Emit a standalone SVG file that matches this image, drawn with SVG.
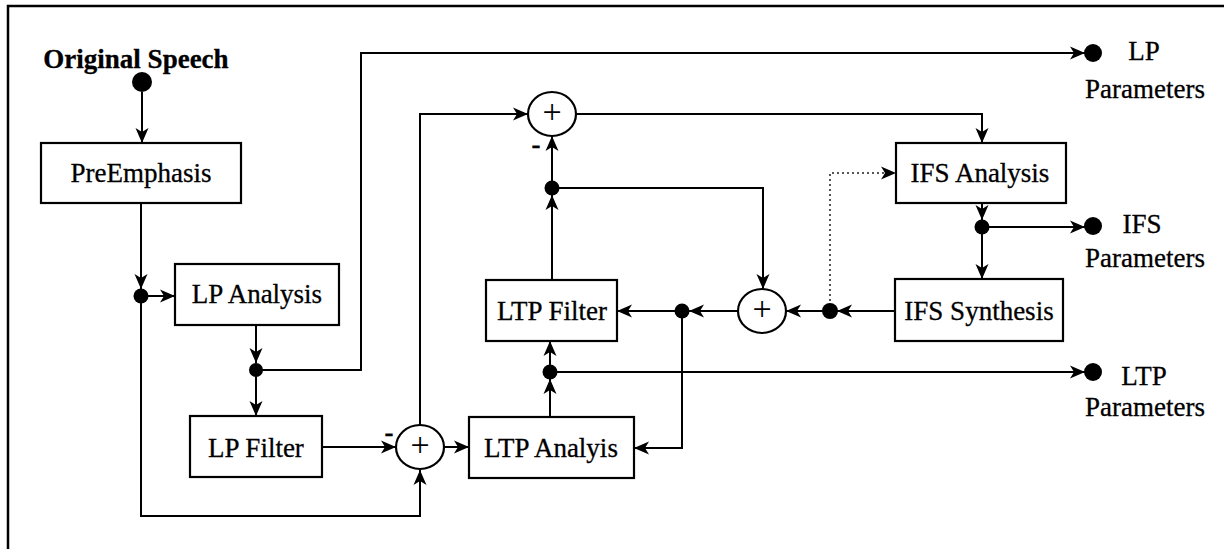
<svg xmlns="http://www.w3.org/2000/svg" width="1224" height="549" viewBox="0 0 1224 549">
<style>
  .box { fill: #fff; stroke: #000; stroke-width: 2.2; }
  .sum { fill: #fff; stroke: #000; stroke-width: 2.2; }
  .ln { fill: none; stroke: #000; stroke-width: 2; }
  .dot { fill: none; stroke: #555; stroke-width: 2; stroke-dasharray: 2 3; }
  .t { font-family: "Liberation Serif", "Times New Roman", serif; font-size: 27px; fill: #000; text-anchor: middle; stroke: #000; stroke-width: 0.3; }
  .b { font-weight: bold; }
  .pl { font-family: "Liberation Serif", serif; font-size: 34px; fill: #000; text-anchor: middle; }
</style>
<defs>
  <marker id="ah" markerUnits="userSpaceOnUse" markerWidth="16" markerHeight="14" refX="15" refY="6.5" orient="auto" overflow="visible">
    <path d="M0,0 L15,6.5 L0,13 L4,6.5 Z" fill="#000"/>
  </marker>
</defs>
<rect width="1224" height="549" fill="#fff"/>
<rect x="8" y="6" width="1240" height="560" fill="none" stroke="#000" stroke-width="2.5"/>

<g id="connectors">
  <path class="ln" d="M142,92 V143" marker-end="url(#ah)"/>
  <path class="ln" d="M141,203 V289" marker-end="url(#ah)"/>
  <path class="ln" d="M148,296 H175" marker-end="url(#ah)"/>
  <path class="ln" d="M141,296 V516 H420 V470" marker-end="url(#ah)"/>
  <path class="ln" d="M256,325 V363" marker-end="url(#ah)"/>
  <path class="ln" d="M256,370 V416" marker-end="url(#ah)"/>
  <path class="ln" d="M256,370 H361 V53 H1085" marker-end="url(#ah)"/>
  <path class="ln" d="M322,447 H396" marker-end="url(#ah)"/>
  <path class="ln" d="M444,447 H469" marker-end="url(#ah)"/>
  <path class="ln" d="M420,425 V114 H528" marker-end="url(#ah)"/>
  <path class="ln" d="M576,114 H982 V143" marker-end="url(#ah)"/>
  <path class="ln" d="M552,280 V195" marker-end="url(#ah)"/>
  <path class="ln" d="M552,188 V136" marker-end="url(#ah)"/>
  <path class="ln" d="M552,188 H763 V289" marker-end="url(#ah)"/>
  <path class="ln" d="M550,417 V379" marker-end="url(#ah)"/>
  <path class="ln" d="M550,372 V341" marker-end="url(#ah)"/>
  <path class="ln" d="M550,372 H1085" marker-end="url(#ah)"/>
  <path class="ln" d="M895,311 H837" marker-end="url(#ah)"/>
  <path class="ln" d="M830,311 H786" marker-end="url(#ah)"/>
  <path class="ln" d="M738,311 H689" marker-end="url(#ah)"/>
  <path class="ln" d="M682,311 H617" marker-end="url(#ah)"/>
  <path class="ln" d="M682,311 V448 H634" marker-end="url(#ah)"/>
  <path class="dot" d="M830,311 V173 H896" marker-end="url(#ah)"/>
  <path class="ln" d="M982,203 V220" marker-end="url(#ah)"/>
  <path class="ln" d="M982,227 H1085" marker-end="url(#ah)"/>
  <path class="ln" d="M982,227 V279" marker-end="url(#ah)"/>
  <!-- junction dots -->
  <circle cx="141" cy="296" r="7.5" fill="#000"/>
  <circle cx="256" cy="370" r="7" fill="#000"/>
  <circle cx="552" cy="188" r="7.5" fill="#000"/>
  <circle cx="550" cy="372" r="7.5" fill="#000"/>
  <circle cx="682" cy="311" r="7.5" fill="#000"/>
  <circle cx="830" cy="311" r="8" fill="#000"/>
  <circle cx="982" cy="227" r="7.5" fill="#000"/>
</g>

<g id="original-speech">
  <text class="t b" x="136" y="68">Original Speech</text>
  <circle cx="142" cy="82" r="10" fill="#000"/>
</g>
<g id="preemphasis">
  <rect class="box" x="41" y="143" width="200" height="60"/>
  <text class="t" x="141" y="182">PreEmphasis</text>
</g>
<g id="lp-analysis">
  <rect class="box" x="175" y="264" width="164" height="61"/>
  <text class="t" x="257" y="303">LP Analysis</text>
</g>
<g id="lp-filter">
  <rect class="box" x="190" y="416" width="132" height="61"/>
  <text class="t" x="256" y="457">LP Filter</text>
</g>
<g id="sum-lower">
  <ellipse class="sum" cx="420" cy="447" rx="24" ry="22"/>
  <text class="pl" x="420" y="456">+</text>
  <text class="t b" x="389" y="441">-</text>
</g>
<g id="ltp-analysis">
  <rect class="box" x="469" y="417" width="165" height="61"/>
  <text class="t" x="551" y="457">LTP Analyis</text>
</g>
<g id="ltp-filter">
  <rect class="box" x="486" y="280" width="131" height="61"/>
  <text class="t" x="552" y="320">LTP Filter</text>
</g>
<g id="sum-upper">
  <ellipse class="sum" cx="552" cy="114" rx="24" ry="22"/>
  <text class="pl" x="552" y="123">+</text>
  <text class="t b" x="536" y="153">-</text>
</g>
<g id="sum-middle">
  <ellipse class="sum" cx="762" cy="311" rx="24" ry="22"/>
  <text class="pl" x="762" y="320">+</text>
</g>
<g id="ifs-analysis">
  <rect class="box" x="896" y="143" width="170" height="60"/>
  <text class="t" x="980" y="182">IFS Analysis</text>
</g>
<g id="ifs-synthesis">
  <rect class="box" x="895" y="279" width="168" height="62"/>
  <text class="t" x="979" y="320">IFS Synthesis</text>
</g>
<g id="lp-parameters">
  <circle cx="1093" cy="53" r="9" fill="#000"/>
  <text class="t" x="1144" y="60">LP</text>
  <text class="t" x="1145" y="98">Parameters</text>
</g>
<g id="ifs-parameters">
  <circle cx="1093" cy="226" r="9" fill="#000"/>
  <text class="t" x="1142" y="233">IFS</text>
  <text class="t" x="1145" y="267">Parameters</text>
</g>
<g id="ltp-parameters">
  <circle cx="1093" cy="372" r="9" fill="#000"/>
  <text class="t" x="1144" y="385">LTP</text>
  <text class="t" x="1145" y="416">Parameters</text>
</g>
</svg>
